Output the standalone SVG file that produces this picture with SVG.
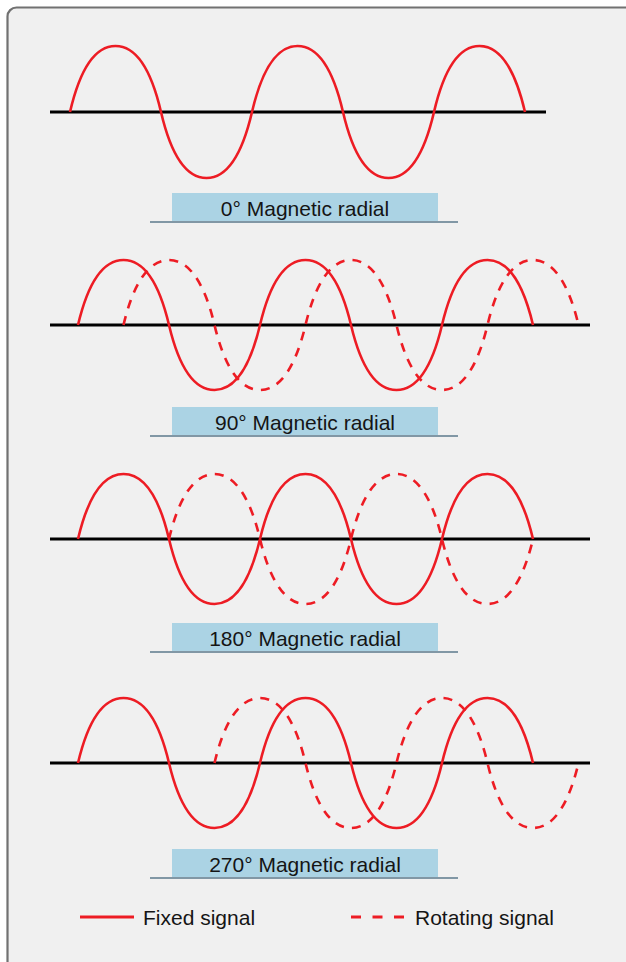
<svg xmlns="http://www.w3.org/2000/svg" width="626" height="962" viewBox="0 0 626 962">
<defs>
<style>
.frame{fill:#f0f0f0;stroke:#717171;stroke-width:2.2}
.axis{stroke:#000;stroke-width:3;fill:none}
.fixed{stroke:#ed1c24;stroke-width:2.6;fill:none}
.rot{stroke:#ed1c24;stroke-width:2.6;fill:none;stroke-dasharray:9 8}
.box{fill:#abd3e4}
.under{stroke:#5d7a8c;stroke-width:1.5}
.lbl{font-family:"Liberation Sans",Arial,sans-serif;font-size:21px;fill:#151515}
</style>
</defs>
<rect class="frame" x="7.5" y="7.5" width="630" height="970" rx="9"/>

<g id="panel-0">
<line class="axis" x1="50" y1="112" x2="546" y2="112"/>
<path class="fixed" d="M70,112 c8,-34.3 22,-66 45.5,-66 s37.5,31.7 45.5,66 s22,66 45.5,66 s37.5,-31.7 45.5,-66 s22,-66 45.5,-66 s37.5,31.7 45.5,66 s22,66 45.5,66 s37.5,-31.7 45.5,-66 s22,-66 45.5,-66 s37.5,31.7 45.5,66"/>
<rect class="box" x="172" y="193" width="266" height="28"/>
<line class="under" x1="150" y1="222" x2="458" y2="222"/>
<text class="lbl" x="305" y="216" text-anchor="middle">0° Magnetic radial</text>
</g>

<g id="panel-90">
<line class="axis" x1="50" y1="325" x2="590" y2="325"/>
<path class="fixed" d="M78,325 c8,-33.8 22,-65 45.5,-65 s37.5,31.2 45.5,65 s22,65 45.5,65 s37.5,-31.2 45.5,-65 s22,-65 45.5,-65 s37.5,31.2 45.5,65 s22,65 45.5,65 s37.5,-31.2 45.5,-65 s22,-65 45.5,-65 s37.5,31.2 45.5,65"/>
<path class="rot" d="M123.5,325 c8,-33.8 22,-65 45.5,-65 s37.5,31.2 45.5,65 s22,65 45.5,65 s37.5,-31.2 45.5,-65 s22,-65 45.5,-65 s37.5,31.2 45.5,65 s22,65 45.5,65 s37.5,-31.2 45.5,-65 s22,-65 45.5,-65 s37.5,31.2 45.5,65"/>
<rect class="box" x="172" y="407" width="266" height="28"/>
<line class="under" x1="150" y1="436" x2="458" y2="436"/>
<text class="lbl" x="305" y="430" text-anchor="middle">90° Magnetic radial</text>
</g>

<g id="panel-180">
<line class="axis" x1="50" y1="539" x2="590" y2="539"/>
<path class="fixed" d="M78,539 c8,-33.8 22,-65 45.5,-65 s37.5,31.2 45.5,65 s22,65 45.5,65 s37.5,-31.2 45.5,-65 s22,-65 45.5,-65 s37.5,31.2 45.5,65 s22,65 45.5,65 s37.5,-31.2 45.5,-65 s22,-65 45.5,-65 s37.5,31.2 45.5,65"/>
<path class="rot" d="M169,539 c8,-33.8 22,-65 45.5,-65 s37.5,31.2 45.5,65 s22,65 45.5,65 s37.5,-31.2 45.5,-65 s22,-65 45.5,-65 s37.5,31.2 45.5,65 s22,65 45.5,65 s37.5,-31.2 45.5,-65"/>
<rect class="box" x="172" y="623" width="266" height="28"/>
<line class="under" x1="150" y1="652" x2="458" y2="652"/>
<text class="lbl" x="305" y="646" text-anchor="middle">180° Magnetic radial</text>
</g>

<g id="panel-270">
<line class="axis" x1="50" y1="763" x2="590" y2="763"/>
<path class="fixed" d="M78,763 c8,-33.8 22,-65 45.5,-65 s37.5,31.2 45.5,65 s22,65 45.5,65 s37.5,-31.2 45.5,-65 s22,-65 45.5,-65 s37.5,31.2 45.5,65 s22,65 45.5,65 s37.5,-31.2 45.5,-65 s22,-65 45.5,-65 s37.5,31.2 45.5,65"/>
<path class="rot" d="M214.5,763 c8,-33.8 22,-65 45.5,-65 s37.5,31.2 45.5,65 s22,65 45.5,65 s37.5,-31.2 45.5,-65 s22,-65 45.5,-65 s37.5,31.2 45.5,65 s22,65 45.5,65 s37.5,-31.2 45.5,-65"/>
<rect class="box" x="172" y="849" width="266" height="28"/>
<line class="under" x1="150" y1="878" x2="458" y2="878"/>
<text class="lbl" x="305" y="872" text-anchor="middle">270° Magnetic radial</text>
</g>

<g id="legend">
<line x1="80" y1="917" x2="134" y2="917" stroke="#ed1c24" stroke-width="3"/>
<text class="lbl" x="143" y="925">Fixed signal</text>
<line x1="351" y1="917" x2="404" y2="917" stroke="#ed1c24" stroke-width="3" stroke-dasharray="10 11.5"/>
<text class="lbl" x="415" y="925">Rotating signal</text>
</g>
</svg>
